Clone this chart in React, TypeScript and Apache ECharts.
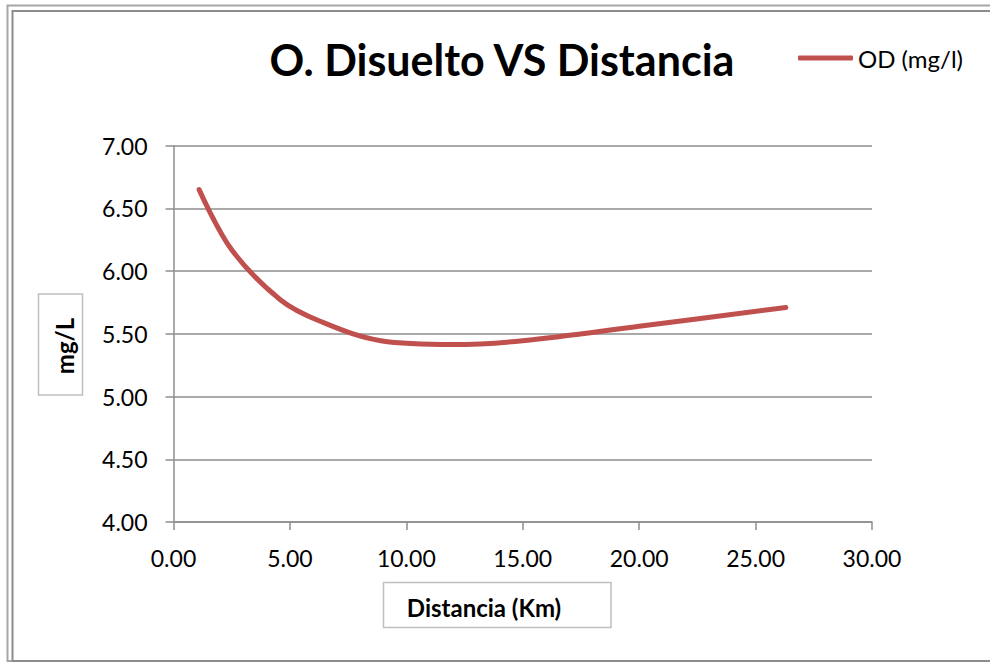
import React, { useEffect, useRef } from "react";
import * as echarts from "echarts";

const distances = [1.1, 2.5, 4.6, 6.3, 8.9, 12.0, 15.0, 20.0, 26.3];
const odValues = [6.65, 6.17, 5.77, 5.6, 5.445, 5.415, 5.445, 5.56, 5.71];
const seriesName = "OD (mg/l)";
const chartTitle = "O. Disuelto VS Distancia";
const xTitle = "Distancia (Km)";
const yTitle = "mg/L";

const FONT = "Lato";
const GRID_COLOR = "#8e8e8e";

export default function App() {
  const ref = useRef<HTMLDivElement>(null);
  useEffect(() => {
    if (!ref.current) return;
    const chart = echarts.init(ref.current, undefined, { renderer: "svg" });
    const data = distances.map((d, i) => [d, odValues[i]]);
    chart.setOption({
      animation: false,
      backgroundColor: "#ffffff",
      textStyle: { fontFamily: FONT },
      grid: { left: 173.5, right: 118, top: 145.7, bottom: 142, containLabel: false },
      legend: {
        data: [seriesName],
        left: 798,
        top: 46,
        padding: 0,
        width: 190,
        itemWidth: 55,
        itemHeight: 5,
        icon: "roundRect",
        itemStyle: { color: "#C0504D", borderRadius: 2.5 },
        textStyle: { fontFamily: FONT, fontSize: 24, color: "#000" },
      },
      xAxis: {
        type: "value",
        min: 0,
        max: 30,
        interval: 5,
        axisLine: { show: true, lineStyle: { color: GRID_COLOR, width: 1.5 } },
        axisTick: { show: true, length: 8, lineStyle: { color: GRID_COLOR, width: 1.5 } },
        splitLine: { show: false },
        axisLabel: {
          margin: 24,
          fontFamily: FONT,
          fontSize: 23,
          color: "#000",
          formatter: (v: number) => v.toFixed(2),
        },
      },
      yAxis: {
        type: "value",
        min: 4,
        max: 7,
        interval: 0.5,
        axisLine: { show: true, lineStyle: { color: GRID_COLOR, width: 1.5 } },
        axisTick: { show: true, length: 8, lineStyle: { color: GRID_COLOR, width: 1.5 } },
        splitLine: { show: true, lineStyle: { color: GRID_COLOR, width: 1.5 } },
        axisLabel: {
          margin: 26,
          fontFamily: FONT,
          fontSize: 23,
          color: "#000",
          formatter: (v: number) => v.toFixed(2),
        },
      },
      series: [
        {
          name: seriesName,
          type: "line",
          data,
          smooth: 0.35,
          symbol: "none",
          showSymbol: false,
          color: "#C0504D",
          lineStyle: { color: "#C0504D", width: 5, cap: "round", join: "round" },
        },
      ],
      graphic: [
        {
          type: "rect",
          shape: { x: 7.5, y: 5.5, width: 1000, height: 655.5 },
          style: { fill: "none", stroke: "#a6a6a6", lineWidth: 2 },
          silent: true,
        },
        {
          type: "rect",
          shape: { x: 12.5, y: 11, width: 1000, height: 650 },
          style: { fill: "none", stroke: "#8c8c8c", lineWidth: 2 },
          silent: true,
        },
        {
          type: "text",
          x: 502,
          y: 59,
          style: {
            text: chartTitle,
            fontFamily: FONT,
            fontWeight: "bold",
            fontSize: 43,
            fill: "#000",
            align: "center",
            verticalAlign: "middle",
          },
        },
        {
          type: "rect",
          shape: { x: 38.5, y: 294, width: 44, height: 101 },
          style: { fill: "#fff", stroke: "#bfbfbf", lineWidth: 1.5 },
        },
        {
          type: "text",
          x: 64,
          y: 346,
          rotation: Math.PI / 2,
          style: {
            text: yTitle,
            fontFamily: FONT,
            fontWeight: "bold",
            fontSize: 24,
            fill: "#000",
            align: "center",
            verticalAlign: "middle",
          },
        },
        {
          type: "rect",
          shape: { x: 383.5, y: 582.5, width: 227.5, height: 45 },
          style: { fill: "#fff", stroke: "#bfbfbf", lineWidth: 1.5 },
        },
        {
          type: "text",
          x: 484,
          y: 607,
          style: {
            text: xTitle,
            fontFamily: FONT,
            fontWeight: "bold",
            fontSize: 24,
            fill: "#000",
            align: "center",
            verticalAlign: "middle",
          },
        },
      ],
    });
    return () => chart.dispose();
  }, []);
  return (
    <div
      ref={ref}
      style={{ position: "absolute", left: 0, top: 0, width: 990, height: 664 }}
    />
  );
}
